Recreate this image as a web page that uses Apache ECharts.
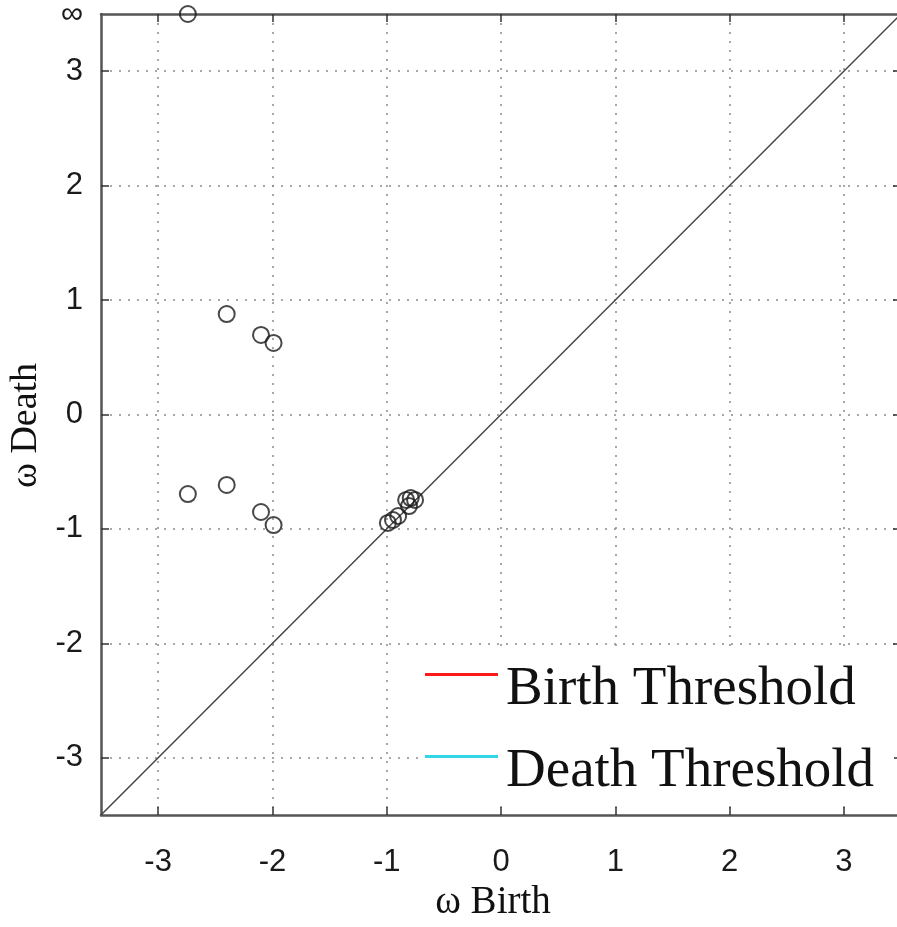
<!DOCTYPE html>
<html>
<head>
<meta charset="utf-8">
<script src="https://cdn.jsdelivr.net/npm/echarts@6/dist/echarts.min.js"></script>
<style>
html,body{margin:0;padding:0;background:#fff;}
#chart{width:897px;height:927px;}
</style>
</head>
<body>
<div id="chart"></div>
<script>
// Axis range and ticks
const AXIS_MIN = -3.5;
const AXIS_MAX = 3.5;
const INF_VALUE = 3.5; // death value plotted at the "∞" row
const tickValues = [-3, -2, -1, 0, 1, 2, 3];
const yLabelValues = [-3, -2, -1, 0, 1, 2, 3, 3.5];

// Persistence points
const birthValues = [-2.74, -2.40, -2.10, -1.99, -2.74, -2.40, -2.10, -1.99, -0.99, -0.945, -0.90, -0.83, -0.79, -0.752, -0.805];
const deathValues = [INF_VALUE, 0.878, 0.695, 0.625, -0.695, -0.616, -0.852, -0.966, -0.948, -0.922, -0.887, -0.747, -0.730, -0.747, -0.800];

// Diagonal
const diagonal = [[-3.5, -3.5], [3.5, 3.5]];

// Legend entries
const legendNames = ['Birth Threshold', 'Death Threshold'];
const legendColors = ['#ff1a1a', '#33d6e6'];

const chart = echarts.init(document.getElementById('chart'), null, {renderer: 'canvas'});

const points = birthValues.map((b, i) => [b, deathValues[i]]);

const gridLine = {show: true, lineStyle: {color: '#8a8a8a', width: 1.5, type: [2, 7]}};
const frameLine = {show: true, onZero: false, lineStyle: {color: '#555', width: 2.5}};
const tickStyle = {show: true, inside: true, length: 8, lineStyle: {color: '#333', width: 1.5}, customValues: tickValues};
const labelFont = {fontFamily: 'Liberation Sans', fontSize: 31, color: '#1a1a1a'};

const option = {
  backgroundColor: '#ffffff',
  animation: false,
  grid: {left: 101, top: 14, width: 800, height: 801, containLabel: false, outerBoundsMode: 'none'},
  legend: {
    orient: 'vertical',
    left: 420,
    top: 652,
    padding: [10, 20, 3, 5],
    backgroundColor: '#ffffff',
    itemWidth: 73,
    itemHeight: 33,
    itemGap: 27,
    icon: 'path://M0,0 L73,0 L73,3 L0,3 Z M0,33',
    data: legendNames,
    textStyle: {fontFamily: 'Liberation Serif', fontSize: 55, color: '#111', lineHeight: 55, padding: [0, 0, 0, 3]}
  },
  xAxis: [{
    type: 'value', min: AXIS_MIN, max: AXIS_MAX, position: 'bottom',
    name: 'ω Birth', nameLocation: 'middle', nameGap: 66,
    nameTextStyle: {fontFamily: 'Liberation Serif', fontSize: 39, color: '#111', padding: [0, 16, 0, 0]},
    axisLine: frameLine, axisTick: tickStyle,
    axisLabel: Object.assign({margin: 32, customValues: tickValues}, labelFont),
    splitLine: gridLine
  }, {
    type: 'value', min: AXIS_MIN, max: AXIS_MAX, position: 'top',
    axisLine: frameLine, axisTick: tickStyle,
    axisLabel: {show: false}, splitLine: {show: false}
  }],
  yAxis: [{
    type: 'value', min: AXIS_MIN, max: AXIS_MAX, position: 'left',
    name: 'ω Death', nameLocation: 'middle', nameGap: 40,
    nameTextStyle: {fontFamily: 'Liberation Serif', fontSize: 38, color: '#111', padding: [0, 22, 0, 0]},
    axisLine: frameLine, axisTick: tickStyle,
    axisLabel: Object.assign({margin: 18, customValues: yLabelValues,
      formatter: v => (v === INF_VALUE ? '∞' : String(v))}, labelFont),
    splitLine: gridLine
  }, {
    type: 'value', min: AXIS_MIN, max: AXIS_MAX, position: 'right',
    axisLine: frameLine, axisTick: tickStyle,
    axisLabel: {show: false}, splitLine: {show: false}
  }],
  series: [
    {
      type: 'line', data: diagonal, symbol: 'none', silent: true,
      lineStyle: {color: '#444', width: 1.5}, z: 3
    },
    {
      type: 'scatter', data: points, symbol: 'circle', symbolSize: 16, clip: false,
      itemStyle: {color: 'rgba(0,0,0,0)', borderColor: '#1a1a1a', borderWidth: 2}, z: 5
    },
    {name: legendNames[0], type: 'line', data: [], itemStyle: {color: legendColors[0], borderWidth: 0}, lineStyle: {color: legendColors[0], width: 3}},
    {name: legendNames[1], type: 'line', data: [], itemStyle: {color: legendColors[1], borderWidth: 0}, lineStyle: {color: legendColors[1], width: 3}}
  ]
};
chart.setOption(option);
</script>
</body>
</html>
